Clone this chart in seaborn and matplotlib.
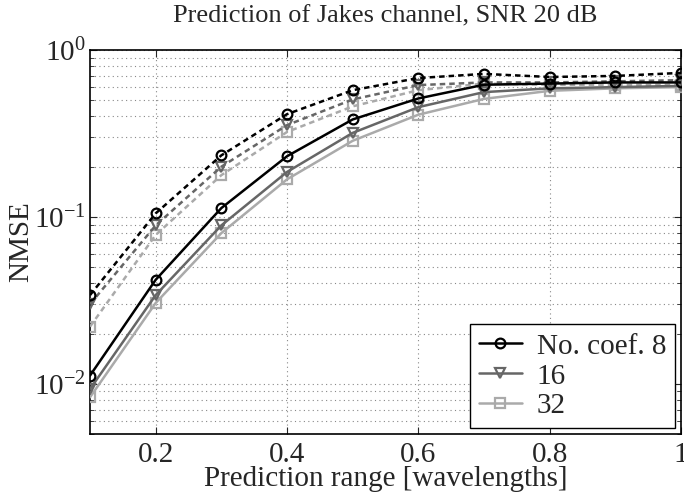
import matplotlib
matplotlib.use('Agg')
import matplotlib.pyplot as plt
import matplotlib.ticker as mticker
import seaborn as sns
import pandas as pd

# valores
alcance = [0.1, 0.2, 0.3, 0.4, 0.5, 0.6, 0.7, 0.8, 0.9, 1.0]

coef8_tracejado = [0.034, 0.105, 0.234, 0.413, 0.575, 0.68, 0.72, 0.69, 0.70, 0.73]
coef16_tracejado = [0.030, 0.089, 0.20, 0.355, 0.506, 0.617, 0.64, 0.64, 0.65, 0.66]
coef32_tracejado = [0.022, 0.078, 0.178, 0.323, 0.46, 0.575, 0.63, 0.62, 0.62, 0.62]

coef8_solido = [0.0112, 0.042, 0.113, 0.231, 0.384, 0.513, 0.62, 0.63, 0.64, 0.64]
coef16_solido = [0.0093, 0.034, 0.089, 0.186, 0.319, 0.455, 0.56, 0.59, 0.60, 0.61]
coef32_solido = [0.0083, 0.0305, 0.080, 0.168, 0.286, 0.41, 0.51, 0.57, 0.59, 0.60]

legendas = ['No. coef. 8', '16', '32']
cores = ['black', '#666666', '#aaaaaa']
marcadores = ['o', 'v', 's']

sns.set_style('ticks')
plt.rcParams['font.family'] = ['Liberation Serif', 'DejaVu Serif']
plt.rcParams['mathtext.fontset'] = 'stix'

fig = plt.figure(figsize=(6.84, 4.96), dpi=100)
ax = fig.add_axes([0.1316, 0.125, 0.864, 0.774])

tracejados = [coef8_tracejado, coef16_tracejado, coef32_tracejado]
solidos = [coef8_solido, coef16_solido, coef32_solido]

# curvas tracejadas (sem legenda)
for i in range(3):
    df = pd.DataFrame({'x': alcance, 'y': tracejados[i]})
    sns.lineplot(data=df, x='x', y='y', ax=ax, color=cores[i], marker=marcadores[i],
                 markersize=7, markerfacecolor='none', markeredgecolor=cores[i],
                 markeredgewidth=1.6, linewidth=1.8, linestyle=(0, (2.2, 1.6)),
                 legend=False, zorder=3 - i * 0.1)

# curvas sólidas (com legenda)
for i in range(3):
    df = pd.DataFrame({'x': alcance, 'y': solidos[i]})
    sns.lineplot(data=df, x='x', y='y', ax=ax, color=cores[i], marker=marcadores[i],
                 markersize=7, markerfacecolor='none', markeredgecolor=cores[i],
                 markeredgewidth=1.6, linewidth=1.8, label=legendas[i],
                 zorder=3 - i * 0.1)

ax.set_yscale('log')
ax.set_xlim(0.1, 1.0)
ax.set_ylim(0.005, 1.0)
ax.set_xticks([0.2, 0.4, 0.6, 0.8, 1.0])
ax.set_xticklabels(['0.2', '0.4', '0.6', '0.8', '1'])
ax.yaxis.set_major_locator(mticker.LogLocator(base=10, numticks=10))
ax.yaxis.set_major_formatter(mticker.LogFormatterMathtext())
ax.yaxis.set_minor_locator(mticker.LogLocator(base=10, subs=range(2, 10), numticks=20))
ax.yaxis.set_minor_formatter(mticker.NullFormatter())

ax.grid(True, which='major', linestyle=(0, (1, 3)), color='#888888', linewidth=0.8)
ax.grid(True, which='minor', axis='y', linestyle=(0, (1, 3)), color='#888888', linewidth=0.8)
ax.tick_params(which='both', direction='in', top=True, right=True, labelsize=21)
ax.tick_params(which='major', length=5)
ax.tick_params(axis='x', which='major', pad=6)
ax.tick_params(axis='y', which='major', pad=3)
ax.tick_params(which='minor', length=3)
for s in ax.spines.values():
    s.set_linewidth(1.2)
    s.set_color('black')

ax.set_title('Prediction of Jakes channel, SNR 20 dB', fontsize=19, pad=20)
ax.set_xlabel('Prediction range [wavelengths]', fontsize=21, labelpad=-2)
ax.set_ylabel('NMSE', fontsize=21, labelpad=0)

leg = ax.legend(loc='lower right', fontsize=21, frameon=True, fancybox=False,
                edgecolor='black', framealpha=1, handlelength=1.5, handletextpad=0.5,
                borderpad=0.3, labelspacing=0.12, borderaxespad=0.2)
leg.get_frame().set_linewidth(1.0)

plt.savefig('out.png', dpi=100)
